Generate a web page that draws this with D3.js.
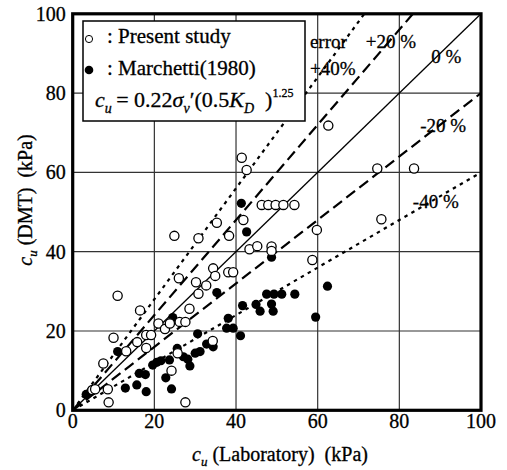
<!DOCTYPE html>
<html>
<head>
<meta charset="utf-8">
<script src="https://cdn.jsdelivr.net/npm/d3@7"></script>
<style>
  html, body { margin: 0; padding: 0; background: #fff; }
  svg { display: block; font-family: "Liberation Serif", "Times New Roman", serif; }
  svg text { fill: #000; stroke: #000; stroke-width: 0.3px; }
</style>
</head>
<body>
<svg id="chart"></svg>
<script>
// tick values on both axes (kPa)
const xTicks = [0, 20, 40, 60, 80, 100];
const yTicks = [0, 20, 40, 60, 80, 100];

// error lines: cu(DMT) = factor * cu(Lab)
const errorFactors = [1.4, 1.2, 1.0, 0.8, 0.6];
const errorLabels = ['+40%', '+20 %', '0 %', '-20 %', '-40 %'];

// Present study (open circles): [cu Lab, cu DMT]
const presentStudy = [
  [62.6, 71.8], [74.6, 61.0], [83.6, 61.0], [59.8, 45.5], [75.6, 48.2], [58.7, 37.9],
  [41.4, 63.7], [42.6, 60.6], [46.3, 51.8], [47.9, 51.8], [49.7, 51.8], [51.6, 51.8],
  [54.3, 51.8], [35.3, 47.3], [41.8, 48.0], [38.3, 44.0], [43.3, 40.6], [45.2, 41.4],
  [48.7, 41.3], [48.7, 40.2], [34.4, 35.8], [34.9, 33.9], [38.1, 34.8], [39.3, 34.8],
  [24.9, 44.0], [30.8, 43.4], [26.0, 33.3], [30.2, 32.3], [32.7, 31.5], [30.8, 29.4],
  [28.6, 25.6], [11.0, 28.9], [16.5, 25.2], [21.0, 21.9], [22.6, 20.5], [23.8, 21.9],
  [26.2, 22.3], [27.6, 22.3], [18.0, 19.0], [19.2, 19.0], [15.8, 17.2], [18.0, 15.7],
  [13.1, 14.9], [10.0, 18.3], [7.5, 11.8], [25.7, 14.4], [34.3, 17.5], [24.2, 10.0],
  [4.8, 5.1], [5.5, 5.3], [8.6, 5.3], [8.8, 2.0], [27.6, 2.0]
];

// Marchetti (1980) (filled circles): [cu Lab, cu DMT]
const marchetti = [
  [41.3, 52.2], [42.6, 45.0], [48.7, 38.6], [62.4, 31.3], [59.5, 23.5], [35.3, 29.7],
  [47.5, 29.3], [49.3, 29.3], [51.2, 29.3], [54.4, 29.3], [41.6, 26.4], [44.9, 26.7],
  [45.9, 25.0], [48.7, 26.8], [49.1, 25.0], [38.1, 23.2], [37.7, 20.7], [39.3, 20.7],
  [41.1, 18.8], [30.6, 19.3], [32.8, 16.7], [34.4, 16.0], [30.0, 14.4], [31.2, 14.8],
  [25.6, 15.6], [27.1, 13.5], [28.2, 12.9], [28.7, 11.2], [23.7, 12.7], [20.6, 12.1],
  [19.6, 11.4], [21.6, 12.5], [16.3, 9.3], [17.8, 9.0], [15.7, 6.4], [12.9, 5.6],
  [18.0, 4.7], [22.8, 8.2], [24.2, 5.4], [11.0, 14.8], [3.3, 4.0], [24.5, 23.4]
];

const width = 507;
const height = 470;
const margin = { top: 13.8, right: 26, bottom: 59.7, left: 72.7 };

const svg = d3.select('#chart')
  .attr('width', width)
  .attr('height', height)
  .attr('viewBox', `0 0 ${width} ${height}`);

const x = d3.scaleLinear().domain([0, 100]).range([margin.left, width - margin.right]);
const y = d3.scaleLinear().domain([0, 100]).range([height - margin.bottom, margin.top]);

// grid lines
svg.append('g')
  .selectAll('line')
  .data(xTicks.slice(1, -1))
  .join('line')
  .attr('x1', d => x(d)).attr('x2', d => x(d))
  .attr('y1', y(0)).attr('y2', y(100))
  .attr('stroke', '#333').attr('stroke-width', 1.2);

svg.append('g')
  .selectAll('line')
  .data(yTicks.slice(1, -1))
  .join('line')
  .attr('x1', x(0)).attr('x2', x(100))
  .attr('y1', d => y(d)).attr('y2', d => y(d))
  .attr('stroke', '#333').attr('stroke-width', 1.2);

// error lines from the origin to the frame
const dashFor = f => f === 1 ? null : (Math.abs(f - 1) > 0.3 ? '3.5,4.5' : '11,5.5');
errorFactors.forEach(f => {
  const xEnd = Math.min(100, 100 / f);
  svg.append('line')
    .attr('x1', x(0)).attr('y1', y(0))
    .attr('x2', x(xEnd)).attr('y2', y(xEnd * f))
    .attr('stroke', '#000')
    .attr('stroke-width', f === 1 ? 1.3 : 2.2)
    .attr('stroke-dasharray', dashFor(f));
});

// error labels (data-space anchor points)
const labelPos = [[58.1, 84.6], [71.8, 91.4], [87.8, 87.6], [85.1, 70.2], [83.3, 51.0]];
errorLabels.forEach((t, i) => {
  svg.append('text')
    .attr('x', x(labelPos[i][0]))
    .attr('y', y(labelPos[i][1]))
    .attr('font-size', 19)
    .text(t);
});
svg.append('text')
  .attr('x', x(58.1)).attr('y', y(91.4))
  .attr('font-size', 19)
  .text('error');

// data points
const r = 4.6;
svg.append('g')
  .selectAll('circle')
  .data(marchetti)
  .join('circle')
  .attr('cx', d => x(d[0])).attr('cy', d => y(d[1]))
  .attr('r', r)
  .attr('fill', '#000');

svg.append('g')
  .selectAll('circle')
  .data(presentStudy)
  .join('circle')
  .attr('cx', d => x(d[0])).attr('cy', d => y(d[1]))
  .attr('r', r)
  .attr('fill', '#fff')
  .attr('stroke', '#000')
  .attr('stroke-width', 1.3);

// frame
svg.append('rect')
  .attr('x', x(0)).attr('y', y(100))
  .attr('width', x(100) - x(0)).attr('height', y(0) - y(100))
  .attr('fill', 'none')
  .attr('stroke', '#000')
  .attr('stroke-width', 3.2);

// tick labels
svg.append('g')
  .selectAll('text')
  .data(yTicks)
  .join('text')
  .attr('x', x(0) - 7)
  .attr('y', d => y(d) + 7)
  .attr('text-anchor', 'end')
  .attr('font-size', 20)
  .text(d => d);

svg.append('g')
  .selectAll('text')
  .data(xTicks)
  .join('text')
  .attr('x', d => x(d))
  .attr('y', y(0) + 18)
  .attr('text-anchor', 'middle')
  .attr('font-size', 20)
  .text(d => d);

// axis titles
const xTitle = svg.append('text')
  .attr('x', 280).attr('y', 461)
  .attr('text-anchor', 'middle')
  .attr('font-size', 20);
xTitle.append('tspan').attr('font-style', 'italic').text('c');
xTitle.append('tspan').attr('font-style', 'italic').attr('font-size', 13).attr('dy', 5).text('u');
xTitle.append('tspan').attr('dy', -5).text(' (Laboratory)\u00a0 (kPa)');

const yTitle = svg.append('text')
  .attr('transform', 'translate(32,200) rotate(-90)')
  .attr('text-anchor', 'middle')
  .attr('font-size', 20);
yTitle.append('tspan').attr('font-style', 'italic').text('c');
yTitle.append('tspan').attr('font-style', 'italic').attr('font-size', 13).attr('dy', 5).text('u');
yTitle.append('tspan').attr('dy', -5).text(' (DMT)\u00a0 (kPa)');

// legend
const legend = svg.append('g');
legend.append('rect')
  .attr('x', 83).attr('y', 21)
  .attr('width', 222).attr('height', 100)
  .attr('fill', '#fff')
  .attr('stroke', '#000')
  .attr('stroke-width', 1.5);

legend.append('circle')
  .attr('cx', 89).attr('cy', 39).attr('r', 3.6)
  .attr('fill', '#fff').attr('stroke', '#000').attr('stroke-width', 1);
legend.append('text')
  .attr('x', 107).attr('y', 43).attr('font-size', 21)
  .text(': Present study');

legend.append('circle')
  .attr('cx', 89).attr('cy', 70).attr('r', 4.3)
  .attr('fill', '#000');
legend.append('text')
  .attr('x', 107).attr('y', 75).attr('font-size', 21)
  .text(': Marchetti(1980)');

const formula = legend.append('text')
  .attr('x', 95).attr('y', 107).attr('font-size', 22);
formula.append('tspan').attr('font-style', 'italic').text('c');
formula.append('tspan').attr('font-style', 'italic').attr('font-size', 14).attr('dy', 6).text('u');
formula.append('tspan').attr('dy', -6).text('\u2009= 0.22');
formula.append('tspan').attr('font-style', 'italic').text('σ');
formula.append('tspan').attr('font-style', 'italic').attr('font-size', 14).attr('dy', 6).text('v');
formula.append('tspan').attr('dy', -6).text('\u2032(0.5');
formula.append('tspan').attr('font-style', 'italic').text('K');
formula.append('tspan').attr('font-style', 'italic').attr('font-size', 14).attr('dy', 6).text('D');
formula.append('tspan').attr('dy', -6).text('\u00a0\u00a0)');
formula.append('tspan').attr('font-size', 12).attr('dy', -10).text('1.25');
</script>
</body>
</html>
